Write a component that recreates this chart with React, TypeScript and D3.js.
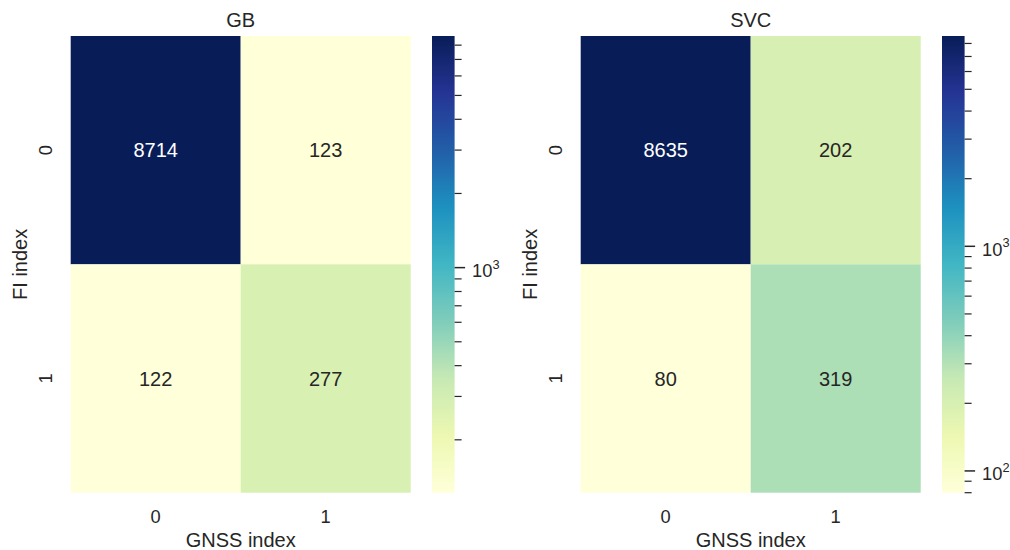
import React from 'react';
import * as d3 from 'd3';

const WIDTH = 1010;
const HEIGHT = 550;
const TOP = 36;
const BOTTOM = 492.7;
const FONT = '"Liberation Sans", Arial, sans-serif';
const TEXT = '#262626';

const categories = ['0', '1'];
const gbValues = [[8714, 123], [122, 277]];
const svcValues = [[8635, 202], [80, 319]];

// matplotlib's YlGnBu is a linear ramp over the 9 brewer colours
const ylgnbu = d3.piecewise(d3.interpolateRgb, d3.schemeYlGnBu[9]);

const luminance = (c: string) => {
    const rgb = d3.rgb(c);
    const lin = [rgb.r, rgb.g, rgb.b].map(v => {
        v = v / 255;
        return v <= 0.03928 ? v / 12.92 : Math.pow((v + 0.055) / 1.055, 2.4);
    });
    return 0.2126 * lin[0] + 0.7152 * lin[1] + 0.0722 * lin[2];
};

const Heatmap = ({ title, values, left }: { title: string, values: number[][], left: number }) => {
    const right = left + 340;
    const flat = values.flat();
    const [vmin, vmax] = d3.extent(flat) as [number, number];

    const x = d3.scaleBand<string>().domain(categories).range([left, right]);
    const y = d3.scaleBand<string>().domain(categories).range([TOP, BOTTOM]);
    const norm = d3.scaleLog().domain([vmin, vmax]).range([0, 1]).clamp(true);
    const color = (v: number) => ylgnbu(norm(v));

    // colorbar
    const cbLeft = right + 21.3;
    const cbWidth = 22.6;
    const cbScale = d3.scaleLog().domain([vmin, vmax]).range([BOTTOM, TOP]);
    const ticks = cbScale.ticks().filter(t => t >= vmin && t <= vmax);
    const gradId = `grad-${title}`;
    const stops = d3.range(0, 1.0001, 0.02);

    return (
        <g>
            <defs>
                <linearGradient id={gradId} x1="0" y1="1" x2="0" y2="0">
                    {stops.map(s => <stop key={s} offset={s} stopColor={ylgnbu(s)} />)}
                </linearGradient>
            </defs>
            {values.map((row, i) => row.map((v, j) => {
                const c = color(v);
                return (
                    <g key={`${i}-${j}`}>
                        <rect x={x(categories[j])} y={y(categories[i])}
                            width={x.bandwidth()} height={y.bandwidth()} fill={c} />
                        <text x={x(categories[j])! + x.bandwidth() / 2}
                            y={y(categories[i])! + y.bandwidth() / 2}
                            dy="0.36em" textAnchor="middle" fontSize={20}
                            fill={luminance(c) > 0.408 ? TEXT : '#ffffff'}>{v}</text>
                    </g>
                );
            }))}
            <text x={(left + right) / 2} y={26.5} textAnchor="middle" fontSize={20} fill={TEXT}>{title}</text>
            {categories.map(c => (
                <text key={`x${c}`} x={x(c)! + x.bandwidth() / 2} y={523} textAnchor="middle" fontSize={18.3} fill={TEXT}>{c}</text>
            ))}
            <text x={(left + right) / 2} y={546.5} textAnchor="middle" fontSize={20} fill={TEXT}>GNSS index</text>
            {categories.map(c => (
                <text key={`y${c}`} transform={`translate(${left - 18.4},${y(c)! + y.bandwidth() / 2}) rotate(-90)`}
                    textAnchor="middle" fontSize={18.3} fill={TEXT}>{c}</text>
            ))}
            <text transform={`translate(${left - 44},${(TOP + BOTTOM) / 2}) rotate(-90)`}
                textAnchor="middle" fontSize={20} fill={TEXT}>FI index</text>

            <rect x={cbLeft} y={TOP} width={cbWidth} height={BOTTOM - TOP} fill={`url(#${gradId})`} />
            {ticks.map(t => {
                const major = Math.abs(Math.log10(t) - Math.round(Math.log10(t))) < 1e-9;
                const ty = cbScale(t);
                return (
                    <g key={t}>
                        <line x1={cbLeft + cbWidth} x2={cbLeft + cbWidth + (major ? 10.5 : 7)} y1={ty} y2={ty}
                            stroke={TEXT} strokeWidth={major ? 1.5 : 1.2} />
                        {major && (
                            <text x={cbLeft + cbWidth + 17.5} y={ty + 9.5} fontSize={18.3} fill={TEXT}>
                                10<tspan dy={-8.5} fontSize={12.8}>{Math.round(Math.log10(t))}</tspan>
                            </text>
                        )}
                    </g>
                );
            })}
        </g>
    );
};

const App = () => (
    <svg width={WIDTH} height={HEIGHT} style={{ position: 'absolute', left: 0, top: 0, background: '#fff' }}
        fontFamily={FONT}>
        <Heatmap title="GB" values={gbValues} left={70.7} />
        <Heatmap title="SVC" values={svcValues} left={580.7} />
    </svg>
);

export default App;
